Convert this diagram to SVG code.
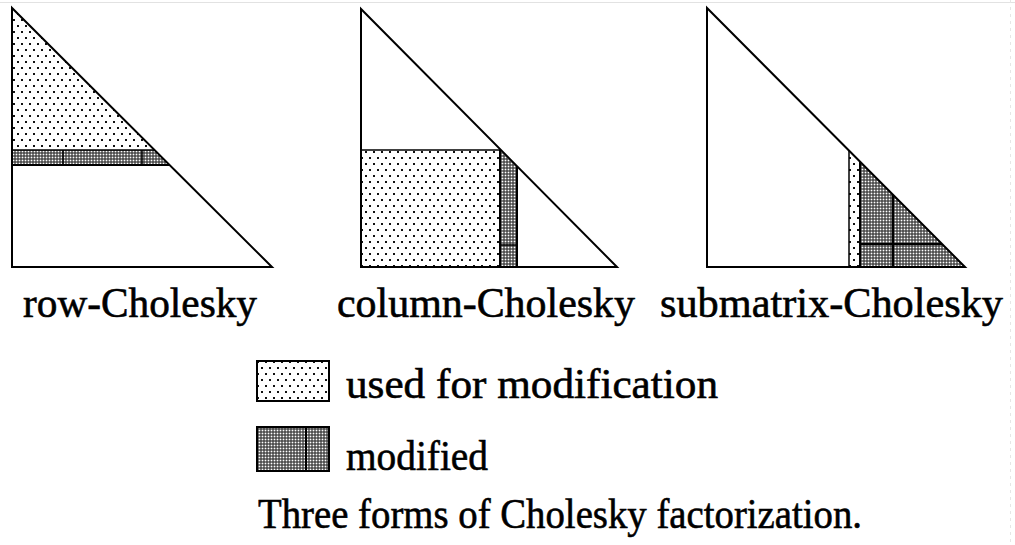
<svg xmlns="http://www.w3.org/2000/svg" width="1015" height="545" viewBox="0 0 1015 545">
<style>
.ol{fill:none;stroke:#000;stroke-width:2;stroke-linejoin:miter}
.th{fill:none;stroke:#000;stroke-width:1.5}
.lt{fill:url(#light)}
.dk{fill:url(#dark)}
.lbl{font-family:"Liberation Serif","DejaVu Serif",serif;font-size:43px;fill:#000;stroke:#000;stroke-width:0.6}
</style>
<defs>
<pattern id="light" width="8" height="12" patternUnits="userSpaceOnUse">
<rect width="8" height="12" fill="#fff"/>
<rect x="1" y="1" width="2" height="2" fill="#111"/>
<rect x="5" y="7" width="2" height="2" fill="#111"/>
</pattern>
<pattern id="dark" width="3" height="3" patternUnits="userSpaceOnUse">
<rect width="3" height="3" fill="#333"/>
<rect x="0.6" y="0.6" width="1.8" height="1.8" fill="#fff"/>
</pattern>
</defs>
<rect width="1015" height="545" fill="#fff"/>
<line x1="0" y1="2.5" x2="1015" y2="2.5" stroke="#e2e2e2" stroke-width="1"/>
<line x1="1010.5" y1="0" x2="1010.5" y2="545" stroke="#e6e6e6" stroke-width="1" stroke-dasharray="3,4"/>

<g id="row-cholesky">
<polygon class="lt" points="12,8 12,150 154.5,150"/>
<polygon class="dk" points="12,150 154.5,150 169.6,165 12,165"/>
<line class="th" x1="12" y1="150" x2="154.5" y2="150"/>
<line class="ol" x1="12" y1="165" x2="169.6" y2="165"/>
<line class="th" x1="63" y1="150" x2="63" y2="165"/>
<line class="th" x1="142" y1="150" x2="142" y2="165"/>
<polygon class="ol" points="12,8 12,267 272,267"/>
<text class="lbl" x="23" y="317" textLength="234" lengthAdjust="spacingAndGlyphs">row-Cholesky</text>
</g>

<g id="column-cholesky">
<rect class="lt" x="361" y="150" width="139" height="117"/>
<polygon class="dk" points="500,150 517,166.5 517,267 500,267"/>
<line class="th" x1="361" y1="150" x2="500" y2="150"/>
<line class="ol" x1="500" y1="150" x2="500" y2="267"/>
<line class="ol" x1="517" y1="166" x2="517" y2="267"/>
<line class="th" x1="500" y1="245" x2="517" y2="245"/>
<polygon class="ol" points="361,9 361,267 617,267"/>
<text class="lbl" x="337" y="317" textLength="298" lengthAdjust="spacingAndGlyphs">column-Cholesky</text>
</g>

<g id="submatrix-cholesky">
<polygon class="lt" points="849,150.5 860,161.5 860,267 849,267"/>
<polygon class="dk" points="860,161.5 965,267 860,267"/>
<line class="th" x1="849" y1="150.5" x2="849" y2="267"/>
<line class="ol" x1="860" y1="161.5" x2="860" y2="267"/>
<line class="ol" x1="893" y1="194.7" x2="893" y2="267"/>
<line class="ol" x1="860" y1="244" x2="942" y2="244"/>
<polygon class="ol" points="707,8 707,267 965,267"/>
<text class="lbl" x="660" y="317" textLength="343" lengthAdjust="spacingAndGlyphs">submatrix-Cholesky</text>
</g>

<g id="legend-used">
<rect class="lt" x="257" y="361" width="72" height="40"/>
<rect class="ol" x="257" y="361" width="72" height="40"/>
<text class="lbl" x="346" y="398" textLength="372" lengthAdjust="spacingAndGlyphs">used for modification</text>
</g>

<g id="legend-modified">
<rect class="dk" x="257" y="427" width="72" height="44"/>
<rect class="ol" x="257" y="427" width="72" height="44"/>
<line class="ol" x1="306" y1="427" x2="306" y2="471"/>
<text class="lbl" x="346" y="470" textLength="142" lengthAdjust="spacingAndGlyphs">modified</text>
</g>

<g id="caption">
<text class="lbl" x="258" y="528" textLength="604" lengthAdjust="spacingAndGlyphs">Three forms of Cholesky factorization.</text>
</g>

<g id="connectors"></g>
</svg>
